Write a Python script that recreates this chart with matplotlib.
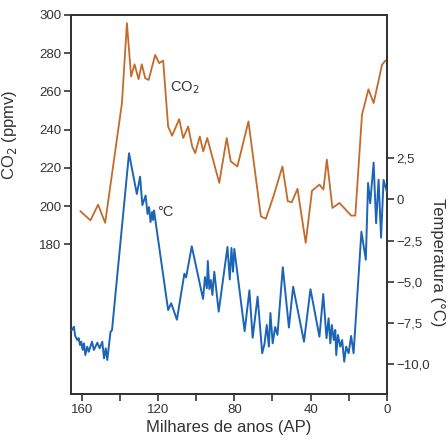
import matplotlib
matplotlib.use("Agg")
import matplotlib.pyplot as plt

plt.rcParams['font.family'] = ['Liberation Sans', 'DejaVu Sans']

# CO2 record (thousands of years BP, ppmv)
co2_age = [160.6, 155.4, 151.4, 147.7, 138.9, 136.3, 134.1, 132.3, 130.2, 128.5,
           126.7, 124.9, 121.5, 119.4, 117.3, 114.7, 112.6, 108.9, 106.8, 104.2,
           102.1, 100.5, 98.1, 96.3, 94.2, 87.9, 84.0, 81.9, 78.4, 72.6,
           66.1, 63.5, 59.5, 54.8, 52.0, 49.9, 46.9, 42.6, 39.3, 35.4,
           33.3, 31.5, 28.6, 24.9, 18.8, 16.6, 13.1, 9.7, 7.0, 2.6, 0.9, 0.0]
co2_ppm = [197.2, 192.5, 200.7, 191.2, 253.9, 295.7, 267.8, 274.2, 266.4, 274.2,
           266.9, 266.0, 279.1, 274.8, 276.1, 241.6, 236.8, 245.5, 235.6, 241.6,
           231.2, 227.7, 236.4, 228.6, 235.6, 212.1, 235.6, 223.4, 220.7, 244.3,
           194.6, 193.3, 205.1, 220.7, 202.5, 202.0, 209.0, 180.7, 208.0, 211.2,
           208.6, 224.3, 199.0, 201.6, 195.0, 195.0, 247.8, 261.1, 253.9, 273.9, 276.1, 276.1]

# Temperature anomaly record (thousands of years BP, degC)
temp_age = [165.1, 164.1, 163.4, 162.3, 161.6, 160.9, 160.2, 159.5, 158.8, 158.1,
            157.1, 156.3, 154.6, 153.6, 151.8, 150.6, 149.2, 148.3, 147.4, 146.6,
            144.9, 144.1, 135.2, 131.1, 129.4, 128.2, 126.5, 125.5, 124.7, 123.9,
            123.1, 122.6, 122.1, 114.7, 113.1, 110.1, 106.2, 105.3, 102.3, 96.4,
            95.4, 94.4, 93.9, 93.1, 92.3, 91.5, 90.5, 88.2, 83.6, 82.4,
            81.5, 80.7, 80.0, 74.6, 72.1, 70.4, 67.8, 65.4, 64.2, 63.0,
            61.9, 61.1, 59.9, 58.6, 57.4, 54.6, 51.4, 49.2, 43.5, 40.1,
            35.4, 33.4, 31.7, 30.6, 29.7, 28.9, 27.9, 27.1, 26.6, 25.7,
            24.5, 23.5, 22.4, 21.4, 20.1, 18.8, 17.5, 13.4, 11.1, 9.9,
            8.8, 7.0, 5.7, 4.4, 3.1, 1.8, 0.1]
temp_c = [-7.92, -7.72, -8.28, -8.53, -8.41, -8.83, -8.63, -9.13, -8.73, -9.44,
          -8.93, -9.24, -8.63, -9.13, -8.69, -9.03, -8.63, -9.64, -9.03, -9.74,
          -8.04, -7.92, 2.79, 0.32, 1.37, -0.35, 0.23, -0.89, -0.47, -1.38,
          -0.77, -1.25, -0.68, -6.71, -6.30, -7.30, -4.51, -4.74, -2.85, -6.04,
          -4.71, -5.39, -3.74, -5.44, -4.89, -5.80, -4.39, -6.81, -2.89, -4.86,
          -2.95, -4.39, -3.01, -7.99, -5.52, -8.39, -5.90, -9.33, -8.77, -7.62,
          -8.93, -6.89, -8.73, -7.74, -8.22, -4.12, -7.77, -5.30, -8.63, -5.45,
          -8.33, -5.74, -8.42, -7.21, -8.73, -7.62, -8.53, -7.92, -9.44, -8.22,
          -8.93, -8.53, -9.84, -8.93, -9.33, -8.28, -9.33, -1.96, -3.66, 0.99,
          -0.24, 2.22, -1.45, 1.19, -2.33, 1.17, 0.46]

x_ticks = [160, 120, 80, 40, 0]
x_minor = [140, 100, 60, 20]
co2_ticks = [180, 200, 220, 240, 260, 280, 300]
temp_ticks = [2.5, 0, -2.5, -5.0, -7.5, -10.0]
temp_tick_labels = ['2,5', '0', '\u22122,5', '\u22125,0', '\u22127,5', '\u221210,0']

co2_color = '#c46a2b'
temp_color = '#1c64b6'
ink = '#333333'

fig = plt.figure(figsize=(4.48, 4.41), dpi=100)
ax = fig.add_axes([0.1585, 0.1066, 0.7053, 0.8594])
ax2 = ax.twinx()

ax.plot(co2_age, co2_ppm, color=co2_color, lw=1.3, zorder=3)
ax2.plot(temp_age, temp_c, color=temp_color, lw=1.4, zorder=3)

ax.set_xlim(165.6, 0)
ax.set_ylim(101.6, 300)
ax2.set_ylim(-11.8, 11.17)

ax.set_xticks(x_ticks)
ax.set_xticks(x_minor, minor=True)
ax.set_yticks(co2_ticks)
ax2.set_yticks(temp_ticks)
ax2.set_yticklabels(temp_tick_labels)

for a in (ax, ax2):
    for s in a.spines.values():
        s.set_color(ink)
        s.set_linewidth(1.3)
    a.tick_params(which='both', direction='out', length=5, width=1.2, color=ink,
                  labelcolor=ink, labelsize=9.5, pad=2)

ax.set_xlabel('Milhares de anos (AP)', fontsize=12, color=ink, labelpad=3)
ax.set_ylabel('CO$_2$ (ppmv)', fontsize=12, color=ink)
ax.yaxis.set_label_coords(-0.165, 0.683)
ax2.set_ylabel('Temperatura (°C)', fontsize=12, color=ink, rotation=-90, va='center')
ax2.yaxis.set_label_coords(1.16, 0.348)

ax.text(113.6, 262, 'CO$_2$', fontsize=10.5, color=ink, ha='left', va='center')
ax2.text(120.4, -0.8, '°C', fontsize=10.5, color=ink, ha='left', va='center')

fig.savefig('out.png', dpi=100)
